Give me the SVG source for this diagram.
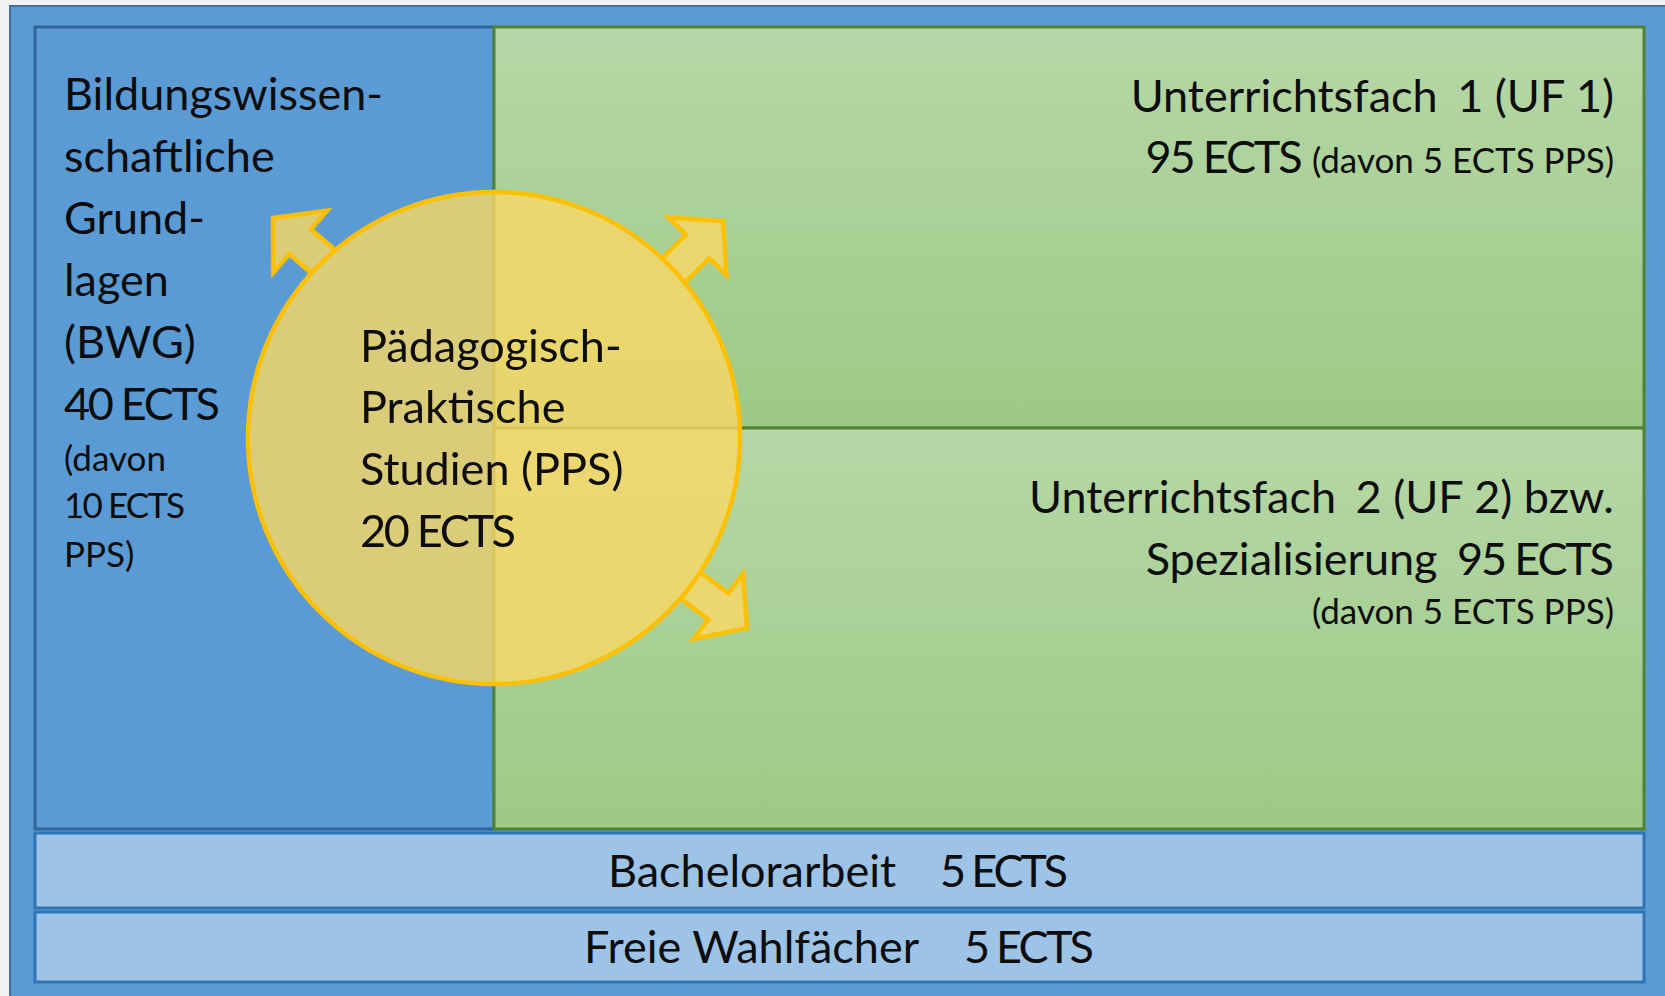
<svg xmlns="http://www.w3.org/2000/svg" width="1665" height="996" viewBox="0 0 1665 996">
<style>
text{font-family:Lato,"Liberation Sans",sans-serif;fill:#0d0d0d}
.lg{font-size:45px}
.sm{font-size:35px}
.blue{fill:#5b9bd5}
.green{fill:url(#gg);stroke:#548235;stroke-width:3}
.row{fill:#9dc3e6;stroke:#2e75b6;stroke-width:3}
.yel{fill:#f9d865;fill-opacity:0.81;stroke:#ffc000;stroke-width:4.5;stroke-linejoin:miter}
</style>
<defs>
<linearGradient id="gg" x1="0" y1="0" x2="0" y2="1">
<stop offset="0" stop-color="#b6d7a6"/>
<stop offset="1" stop-color="#9dca87"/>
</linearGradient>
<mask id="outside" maskUnits="userSpaceOnUse" x="0" y="0" width="1665" height="996">
<rect width="1665" height="996" fill="#fff"/>
<circle cx="494" cy="438" r="246" fill="#000"/>
</mask>
<path id="arr" d="M0,0 L-36,-41 L-36,-16.5 L-82,-16.5 L-82,16.5 L-36,16.5 L-36,41 Z"/>
</defs>
<rect width="1665" height="996" fill="#f2f2f2"/>
<g id="outer">
<rect x="10" y="6" width="1665" height="1000" class="blue" stroke="#41719c" stroke-width="2"/>
</g>
<g id="bwg">
<rect x="35" y="27" width="459" height="802" class="blue" stroke="#31659a" stroke-width="3"/>
<text class="lg" x="64" y="110">Bildungswissen-</text>
<text class="lg" x="64" y="172">schaftliche</text>
<text class="lg" x="64" y="234">Grund-</text>
<text class="lg" x="64" y="296">lagen</text>
<text class="lg" x="64" y="358">(BWG)</text>
<text class="lg" x="64" y="420" textLength="156">40 ECTS</text>
<text class="sm" x="64" y="471">(davon</text>
<text class="sm" x="64" y="518" textLength="121">10 ECTS</text>
<text class="sm" x="64" y="567">PPS)</text>
</g>
<g id="uf1">
<rect x="494" y="27" width="1150" height="401" class="green"/>
<text class="lg" x="1614" y="112" text-anchor="end">Unterrichtsfach <tspan dx="8">1 (UF 1)</tspan></text>
<text class="lg" x="1614" y="173" text-anchor="end"><tspan textLength="157">95 ECTS</tspan> <tspan class="sm">(davon 5 ECTS PPS)</tspan></text>
</g>
<g id="uf2">
<rect x="494" y="428" width="1150" height="401" class="green"/>
<text class="lg" x="1614" y="513" text-anchor="end">Unterrichtsfach <tspan dx="8">2 (UF 2) bzw.</tspan></text>
<text class="lg" x="1614" y="575" text-anchor="end">Spezialisierung <tspan dx="8" textLength="157">95 ECTS</tspan></text>
<text class="sm" x="1614" y="624" text-anchor="end">(davon 5 ECTS PPS)</text>
</g>
<g id="bachelor">
<rect x="35" y="833" width="1609" height="75" class="row"/>
<text class="lg" y="887"><tspan x="608">Bachelorarbeit</tspan> <tspan x="940" textLength="128">5 ECTS</tspan></text>
</g>
<g id="freie">
<rect x="35" y="912" width="1609" height="70" class="row"/>
<text class="lg" y="963"><tspan x="584">Freie Wahlfächer</tspan> <tspan x="964" textLength="130">5 ECTS</tspan></text>
</g>
<g id="connectors" mask="url(#outside)">
<use href="#arr" class="yel" transform="translate(273,218) rotate(221)"/>
<use href="#arr" class="yel" transform="translate(723,221) rotate(-45)"/>
<use href="#arr" class="yel" transform="translate(747,628) rotate(37)"/>
</g>
<g id="pps">
<circle cx="494" cy="438" r="246" class="yel"/>
<text class="lg" x="360" y="362">Pädagogisch-</text>
<text class="lg" x="360" y="423">Praktische</text>
<text class="lg" x="360" y="485">Studien (PPS)</text>
<text class="lg" x="360" y="547" textLength="156">20 ECTS</text>
</g>
</svg>
